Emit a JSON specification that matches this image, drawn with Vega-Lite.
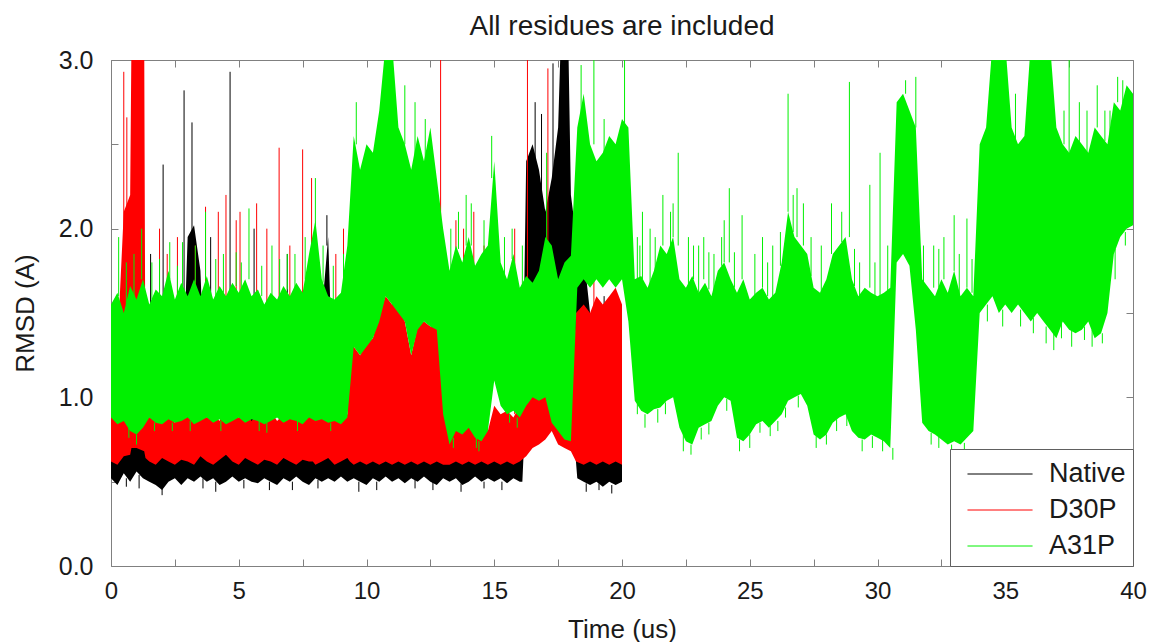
{
  "$schema": "https://vega.github.io/schema/vega-lite/v6.json",
  "width": 1022,
  "height": 506,
  "autosize": {"type": "none"},
  "padding": {"left": 111, "top": 60, "right": 18, "bottom": 76},
  "background": "white",
  "config": {
    "view": {"stroke": "#808080", "strokeWidth": 1},
    "font": "Liberation Sans"
  },
  "title": {"text": "All residues are included", "fontSize": 28, "fontWeight": "normal", "font": "Liberation Sans", "color": "#1a1a1a", "anchor": "middle", "baseline": "alphabetic", "offset": 0, "dy": 15},
  "resolve": {"axis": {"x": "independent", "y": "independent"}},
  "datasets": {
    "native": [
      {"t":0,"lo":0.52,"hi":0.8},{"t":0.25,"lo":0.48,"hi":0.75},{"t":0.5,"lo":0.55,"hi":0.78},{"t":0.75,"lo":0.5,"hi":0.72},{"t":1,"lo":0.56,"hi":0.8},{"t":1.25,"lo":0.52,"hi":0.76},{"t":1.5,"lo":0.5,"hi":0.74},{"t":1.75,"lo":0.48,"hi":0.78},{"t":2,"lo":0.45,"hi":0.72},{"t":2.25,"lo":0.5,"hi":0.76},{"t":2.5,"lo":0.52,"hi":0.74},{"t":2.75,"lo":0.48,"hi":0.8},{"t":3,"lo":0.52,"hi":1.95},{"t":3.25,"lo":0.5,"hi":2.02},{"t":3.5,"lo":0.53,"hi":1.75},{"t":3.75,"lo":0.5,"hi":0.76},{"t":4,"lo":0.52,"hi":0.78},{"t":4.25,"lo":0.48,"hi":0.74},{"t":4.5,"lo":0.5,"hi":0.76},{"t":4.75,"lo":0.53,"hi":0.8},{"t":5,"lo":0.5,"hi":0.74},{"t":5.25,"lo":0.52,"hi":0.78},{"t":5.5,"lo":0.5,"hi":1.6},{"t":5.75,"lo":0.49,"hi":0.74},{"t":6,"lo":0.52,"hi":0.78},{"t":6.25,"lo":0.5,"hi":0.75},{"t":6.5,"lo":0.48,"hi":0.8},{"t":6.75,"lo":0.52,"hi":0.74},{"t":7,"lo":0.5,"hi":0.78},{"t":7.25,"lo":0.53,"hi":0.76},{"t":7.5,"lo":0.5,"hi":0.8},{"t":7.75,"lo":0.48,"hi":0.74},{"t":8,"lo":0.52,"hi":0.78},{"t":8.25,"lo":0.5,"hi":1.5},{"t":8.5,"lo":0.52,"hi":1.95},{"t":8.75,"lo":0.5,"hi":0.76},{"t":9,"lo":0.53,"hi":0.8},{"t":9.25,"lo":0.5,"hi":0.74},{"t":9.5,"lo":0.52,"hi":0.78},{"t":9.75,"lo":0.5,"hi":0.75},{"t":10,"lo":0.48,"hi":0.8},{"t":10.25,"lo":0.52,"hi":0.76},{"t":10.5,"lo":0.5,"hi":0.78},{"t":10.75,"lo":0.53,"hi":0.74},{"t":11,"lo":0.5,"hi":0.8},{"t":11.25,"lo":0.52,"hi":0.76},{"t":11.5,"lo":0.49,"hi":0.78},{"t":11.75,"lo":0.52,"hi":0.74},{"t":12,"lo":0.5,"hi":0.8},{"t":12.25,"lo":0.53,"hi":0.76},{"t":12.5,"lo":0.5,"hi":0.78},{"t":12.75,"lo":0.48,"hi":0.75},{"t":13,"lo":0.52,"hi":0.8},{"t":13.25,"lo":0.5,"hi":0.76},{"t":13.5,"lo":0.52,"hi":0.78},{"t":13.75,"lo":0.48,"hi":0.74},{"t":14,"lo":0.5,"hi":0.8},{"t":14.25,"lo":0.53,"hi":0.76},{"t":14.5,"lo":0.5,"hi":0.78},{"t":14.75,"lo":0.52,"hi":0.74},{"t":15,"lo":0.5,"hi":0.8},{"t":15.25,"lo":0.52,"hi":0.76},{"t":15.5,"lo":0.49,"hi":0.78},{"t":15.75,"lo":0.52,"hi":0.8},{"t":16,"lo":0.5,"hi":0.85},{"t":16.1,"lo":0.5,"hi":0.9},{"t":16.25,"lo":1.0,"hi":2.4},{"t":16.5,"lo":1.3,"hi":2.5},{"t":16.75,"lo":1.4,"hi":2.35},{"t":17,"lo":1.2,"hi":2.1},{"t":17.25,"lo":1.1,"hi":2.3},{"t":17.5,"lo":1.3,"hi":2.6},{"t":17.6,"lo":1.4,"hi":3.1},{"t":17.75,"lo":1.4,"hi":3.1},{"t":17.9,"lo":1.3,"hi":3.1},{"t":18,"lo":1.0,"hi":2.2},{"t":18.25,"lo":0.52,"hi":1.9},{"t":18.5,"lo":0.5,"hi":1.85},{"t":18.75,"lo":0.48,"hi":1.5},{"t":19,"lo":0.5,"hi":0.74},{"t":19.25,"lo":0.47,"hi":0.72},{"t":19.5,"lo":0.5,"hi":0.75},{"t":19.75,"lo":0.48,"hi":0.72},{"t":20,"lo":0.5,"hi":0.74}
    ],
    "d30p": [
      {"t":0,"lo":0.62,"hi":0.9},{"t":0.25,"lo":0.6,"hi":1.3},{"t":0.5,"lo":0.65,"hi":2.1},{"t":0.75,"lo":0.66,"hi":2.2},{"t":0.8,"lo":0.7,"hi":3.1},{"t":1,"lo":0.7,"hi":3.1},{"t":1.3,"lo":0.68,"hi":3.1},{"t":1.35,"lo":0.64,"hi":0.95},{"t":1.5,"lo":0.62,"hi":0.88},{"t":1.75,"lo":0.6,"hi":0.92},{"t":2,"lo":0.64,"hi":0.86},{"t":2.25,"lo":0.62,"hi":0.9},{"t":2.5,"lo":0.6,"hi":0.85},{"t":2.75,"lo":0.63,"hi":0.92},{"t":3,"lo":0.62,"hi":0.88},{"t":3.25,"lo":0.6,"hi":0.9},{"t":3.5,"lo":0.65,"hi":0.95},{"t":3.75,"lo":0.62,"hi":0.88},{"t":4,"lo":0.6,"hi":0.9},{"t":4.25,"lo":0.63,"hi":0.86},{"t":4.5,"lo":0.66,"hi":1.0},{"t":4.75,"lo":0.62,"hi":0.92},{"t":5,"lo":0.6,"hi":0.88},{"t":5.25,"lo":0.64,"hi":0.92},{"t":5.5,"lo":0.62,"hi":0.86},{"t":5.75,"lo":0.6,"hi":0.9},{"t":6,"lo":0.63,"hi":0.88},{"t":6.25,"lo":0.62,"hi":0.92},{"t":6.5,"lo":0.6,"hi":0.86},{"t":6.75,"lo":0.64,"hi":0.9},{"t":7,"lo":0.62,"hi":0.88},{"t":7.25,"lo":0.6,"hi":0.92},{"t":7.5,"lo":0.63,"hi":0.9},{"t":7.75,"lo":0.62,"hi":1.6},{"t":7.9,"lo":0.62,"hi":1.9},{"t":8,"lo":0.6,"hi":1.2},{"t":8.25,"lo":0.62,"hi":0.9},{"t":8.5,"lo":0.64,"hi":0.88},{"t":8.75,"lo":0.6,"hi":0.92},{"t":9,"lo":0.62,"hi":0.86},{"t":9.25,"lo":0.64,"hi":0.9},{"t":9.35,"lo":0.62,"hi":1.3},{"t":9.5,"lo":0.6,"hi":1.3},{"t":9.75,"lo":0.62,"hi":1.25},{"t":10,"lo":0.6,"hi":1.32},{"t":10.25,"lo":0.62,"hi":1.35},{"t":10.5,"lo":0.6,"hi":1.5},{"t":10.75,"lo":0.62,"hi":1.6},{"t":11,"lo":0.6,"hi":1.55},{"t":11.25,"lo":0.62,"hi":1.6},{"t":11.5,"lo":0.6,"hi":1.45},{"t":11.75,"lo":0.62,"hi":1.25},{"t":12,"lo":0.6,"hi":1.42},{"t":12.25,"lo":0.62,"hi":1.45},{"t":12.5,"lo":0.6,"hi":1.42},{"t":12.75,"lo":0.62,"hi":1.45},{"t":13,"lo":0.6,"hi":1.1},{"t":13.25,"lo":0.6,"hi":0.8},{"t":13.5,"lo":0.62,"hi":0.85},{"t":13.75,"lo":0.6,"hi":0.8},{"t":14,"lo":0.62,"hi":0.86},{"t":14.25,"lo":0.6,"hi":0.78},{"t":14.5,"lo":0.62,"hi":0.85},{"t":14.75,"lo":0.6,"hi":0.8},{"t":15,"lo":0.62,"hi":0.95},{"t":15.25,"lo":0.6,"hi":0.9},{"t":15.5,"lo":0.62,"hi":0.92},{"t":15.75,"lo":0.6,"hi":0.88},{"t":16,"lo":0.62,"hi":0.95},{"t":16.25,"lo":0.65,"hi":1.0},{"t":16.5,"lo":0.7,"hi":1.05},{"t":16.75,"lo":0.72,"hi":1.1},{"t":17,"lo":0.75,"hi":1.2},{"t":17.25,"lo":0.8,"hi":1.05},{"t":17.5,"lo":0.72,"hi":0.95},{"t":17.75,"lo":0.7,"hi":0.9},{"t":18,"lo":0.68,"hi":0.95},{"t":18.2,"lo":0.62,"hi":1.5},{"t":18.5,"lo":0.6,"hi":1.55},{"t":18.75,"lo":0.62,"hi":1.5},{"t":19,"lo":0.6,"hi":1.6},{"t":19.25,"lo":0.62,"hi":1.55},{"t":19.5,"lo":0.6,"hi":1.6},{"t":19.75,"lo":0.62,"hi":1.65},{"t":20,"lo":0.6,"hi":1.55}
    ],
    "a31p": [
      {"t":0,"lo":0.88,"hi":1.55},{"t":0.25,"lo":0.84,"hi":1.62},{"t":0.5,"lo":0.86,"hi":1.5},{"t":0.75,"lo":0.8,"hi":1.66},{"t":1,"lo":0.78,"hi":1.58},{"t":1.25,"lo":0.82,"hi":1.7},{"t":1.5,"lo":0.88,"hi":1.55},{"t":1.75,"lo":0.85,"hi":1.64},{"t":2,"lo":0.84,"hi":1.6},{"t":2.25,"lo":0.87,"hi":1.75},{"t":2.5,"lo":0.85,"hi":1.58},{"t":2.75,"lo":0.86,"hi":1.68},{"t":3,"lo":0.88,"hi":1.6},{"t":3.25,"lo":0.84,"hi":1.7},{"t":3.5,"lo":0.86,"hi":1.6},{"t":3.75,"lo":0.88,"hi":1.72},{"t":4,"lo":0.85,"hi":1.58},{"t":4.25,"lo":0.87,"hi":1.66},{"t":4.5,"lo":0.84,"hi":1.6},{"t":4.75,"lo":0.86,"hi":1.68},{"t":5,"lo":0.88,"hi":1.62},{"t":5.25,"lo":0.85,"hi":1.7},{"t":5.5,"lo":0.87,"hi":1.6},{"t":5.75,"lo":0.86,"hi":1.64},{"t":6,"lo":0.84,"hi":1.55},{"t":6.25,"lo":0.86,"hi":1.62},{"t":6.5,"lo":0.88,"hi":1.58},{"t":6.75,"lo":0.85,"hi":1.66},{"t":7,"lo":0.87,"hi":1.6},{"t":7.25,"lo":0.86,"hi":1.68},{"t":7.5,"lo":0.84,"hi":1.62},{"t":7.75,"lo":0.88,"hi":1.85},{"t":8,"lo":0.86,"hi":2.05},{"t":8.25,"lo":0.87,"hi":1.7},{"t":8.5,"lo":0.85,"hi":1.6},{"t":8.75,"lo":0.86,"hi":1.58},{"t":9,"lo":0.84,"hi":1.62},{"t":9.25,"lo":0.88,"hi":1.9},{"t":9.5,"lo":1.3,"hi":2.55},{"t":9.75,"lo":1.25,"hi":2.35},{"t":10,"lo":1.3,"hi":2.5},{"t":10.25,"lo":1.35,"hi":2.45},{"t":10.5,"lo":1.45,"hi":2.7},{"t":10.75,"lo":1.6,"hi":3.1},{"t":11,"lo":1.55,"hi":3.1},{"t":11.25,"lo":1.5,"hi":2.6},{"t":11.5,"lo":1.45,"hi":2.5},{"t":11.75,"lo":1.25,"hi":2.35},{"t":12,"lo":1.4,"hi":2.55},{"t":12.25,"lo":1.45,"hi":2.4},{"t":12.5,"lo":1.42,"hi":2.6},{"t":12.75,"lo":1.4,"hi":2.3},{"t":13,"lo":0.9,"hi":2.0},{"t":13.25,"lo":0.72,"hi":1.75},{"t":13.5,"lo":0.8,"hi":1.9},{"t":13.75,"lo":0.78,"hi":1.8},{"t":14,"lo":0.82,"hi":1.95},{"t":14.25,"lo":0.76,"hi":1.78},{"t":14.5,"lo":0.74,"hi":1.85},{"t":14.75,"lo":0.8,"hi":1.9},{"t":15,"lo":1.1,"hi":2.4},{"t":15.25,"lo":0.95,"hi":1.8},{"t":15.5,"lo":0.9,"hi":1.7},{"t":15.75,"lo":0.92,"hi":1.85},{"t":16,"lo":0.88,"hi":1.65},{"t":16.25,"lo":0.95,"hi":1.72},{"t":16.5,"lo":1.0,"hi":1.68},{"t":16.75,"lo":0.98,"hi":1.75},{"t":17,"lo":1.0,"hi":1.95},{"t":17.25,"lo":0.85,"hi":1.9},{"t":17.5,"lo":0.8,"hi":1.7},{"t":17.75,"lo":0.75,"hi":1.8},{"t":18,"lo":0.74,"hi":1.84},{"t":18.25,"lo":1.65,"hi":2.6},{"t":18.5,"lo":1.7,"hi":2.8},{"t":18.75,"lo":1.65,"hi":2.5},{"t":19,"lo":1.7,"hi":2.4},{"t":19.25,"lo":1.65,"hi":2.45},{"t":19.5,"lo":1.7,"hi":2.55},{"t":19.75,"lo":1.65,"hi":2.5},{"t":20,"lo":1.7,"hi":2.65},{"t":20.25,"lo":1.45,"hi":2.6},{"t":20.5,"lo":0.98,"hi":1.7},{"t":20.75,"lo":0.92,"hi":1.72},{"t":21,"lo":0.9,"hi":1.65},{"t":21.25,"lo":0.93,"hi":1.75},{"t":21.5,"lo":0.94,"hi":1.9},{"t":21.75,"lo":0.98,"hi":1.85},{"t":22,"lo":1.0,"hi":1.95},{"t":22.25,"lo":0.82,"hi":1.7},{"t":22.5,"lo":0.74,"hi":1.65},{"t":22.75,"lo":0.72,"hi":1.72},{"t":23,"lo":0.82,"hi":1.62},{"t":23.25,"lo":0.84,"hi":1.68},{"t":23.5,"lo":0.86,"hi":1.6},{"t":23.75,"lo":0.95,"hi":1.75},{"t":24,"lo":1.0,"hi":1.8},{"t":24.25,"lo":0.98,"hi":1.7},{"t":24.5,"lo":0.76,"hi":1.62},{"t":24.75,"lo":0.74,"hi":1.7},{"t":25,"lo":0.78,"hi":1.58},{"t":25.25,"lo":0.84,"hi":1.62},{"t":25.5,"lo":0.86,"hi":1.65},{"t":25.75,"lo":0.82,"hi":1.58},{"t":26,"lo":0.86,"hi":1.62},{"t":26.25,"lo":0.9,"hi":1.8},{"t":26.5,"lo":0.98,"hi":2.1},{"t":26.75,"lo":1.0,"hi":1.95},{"t":27,"lo":1.02,"hi":1.9},{"t":27.25,"lo":0.95,"hi":1.85},{"t":27.5,"lo":0.78,"hi":1.65},{"t":27.75,"lo":0.75,"hi":1.62},{"t":28,"lo":0.78,"hi":1.7},{"t":28.25,"lo":0.85,"hi":1.85},{"t":28.5,"lo":0.88,"hi":1.9},{"t":28.75,"lo":0.9,"hi":1.95},{"t":29,"lo":0.8,"hi":1.7},{"t":29.25,"lo":0.76,"hi":1.6},{"t":29.5,"lo":0.75,"hi":1.65},{"t":29.75,"lo":0.78,"hi":1.62},{"t":30,"lo":0.76,"hi":1.6},{"t":30.25,"lo":0.74,"hi":1.62},{"t":30.5,"lo":0.7,"hi":1.65},{"t":30.75,"lo":1.8,"hi":2.75},{"t":31,"lo":1.85,"hi":2.8},{"t":31.25,"lo":1.78,"hi":2.7},{"t":31.5,"lo":1.4,"hi":2.6},{"t":31.75,"lo":0.85,"hi":1.7},{"t":32,"lo":0.8,"hi":1.65},{"t":32.25,"lo":0.78,"hi":1.6},{"t":32.5,"lo":0.75,"hi":1.7},{"t":32.75,"lo":0.72,"hi":1.62},{"t":33,"lo":0.74,"hi":1.75},{"t":33.25,"lo":0.72,"hi":1.6},{"t":33.5,"lo":0.76,"hi":1.65},{"t":33.75,"lo":0.8,"hi":1.6},{"t":34,"lo":1.5,"hi":2.5},{"t":34.25,"lo":1.55,"hi":2.6},{"t":34.5,"lo":1.6,"hi":3.1},{"t":34.75,"lo":1.5,"hi":3.1},{"t":35,"lo":1.55,"hi":3.1},{"t":35.25,"lo":1.5,"hi":2.6},{"t":35.5,"lo":1.55,"hi":2.5},{"t":35.75,"lo":1.5,"hi":2.55},{"t":36,"lo":1.45,"hi":3.1},{"t":36.25,"lo":1.5,"hi":3.1},{"t":36.5,"lo":1.45,"hi":3.1},{"t":36.75,"lo":1.4,"hi":3.1},{"t":37,"lo":1.35,"hi":2.6},{"t":37.25,"lo":1.45,"hi":2.5},{"t":37.5,"lo":1.4,"hi":2.45},{"t":37.75,"lo":1.38,"hi":2.55},{"t":38,"lo":1.4,"hi":2.5},{"t":38.25,"lo":1.45,"hi":2.45},{"t":38.5,"lo":1.35,"hi":2.6},{"t":38.75,"lo":1.38,"hi":2.55},{"t":39,"lo":1.5,"hi":2.5},{"t":39.25,"lo":1.85,"hi":2.75},{"t":39.5,"lo":1.95,"hi":2.7},{"t":39.75,"lo":2.0,"hi":2.85},{"t":40,"lo":2.02,"hi":2.8}
    ],
    "native_spikes": [
      {"t":1.55,"a":0.75,"b":1.85},{"t":2.04,"a":0.75,"b":2.38},{"t":2.86,"a":0.75,"b":2.82},{"t":3.17,"a":1.9,"b":2.63},{"t":3.9,"a":0.75,"b":1.95},{"t":4.66,"a":0.78,"b":2.93},{"t":5.6,"a":0.75,"b":2.0},{"t":6.9,"a":0.75,"b":1.85},{"t":8.45,"a":1.9,"b":2.08},{"t":11.4,"a":0.75,"b":1.8},{"t":16.6,"a":2.3,"b":2.75},{"t":16.85,"a":2.2,"b":2.68},{"t":17.3,"a":2.2,"b":2.98},{"t":18.3,"a":1.8,"b":2.25},{"t":19.3,"a":0.7,"b":1.6},
      {"t":1.1,"a":0.54,"b":0.46},{"t":2.0,"a":0.46,"b":0.42},{"t":4.1,"a":0.5,"b":0.44},{"t":6.2,"a":0.5,"b":0.45},{"t":9.7,"a":0.5,"b":0.44},{"t":12.6,"a":0.5,"b":0.45},{"t":15.3,"a":0.5,"b":0.45},{"t":19.6,"a":0.48,"b":0.43},
      {"t":0.6,"a":0.52,"b":0.47},{"t":3.6,"a":0.52,"b":0.46},{"t":5.2,"a":0.51,"b":0.46},{"t":7.1,"a":0.5,"b":0.45},{"t":8.1,"a":0.51,"b":0.46},{"t":10.4,"a":0.5,"b":0.45},{"t":11.9,"a":0.51,"b":0.46},{"t":13.7,"a":0.49,"b":0.44},{"t":14.6,"a":0.5,"b":0.46},{"t":18.6,"a":0.49,"b":0.44},{"t":19.1,"a":0.49,"b":0.45}
    ],
    "d30p_spikes": [
      {"t":0.5,"a":1.9,"b":2.93},{"t":0.62,"a":2.0,"b":2.66},{"t":1.9,"a":0.9,"b":2.0},{"t":2.2,"a":0.9,"b":1.85},{"t":2.6,"a":0.9,"b":1.95},{"t":3.3,"a":0.9,"b":1.9},{"t":3.7,"a":0.9,"b":2.13},{"t":4.2,"a":0.9,"b":2.1},{"t":4.5,"a":1.0,"b":2.2},{"t":4.9,"a":0.9,"b":2.05},{"t":5.05,"a":0.9,"b":2.1},{"t":5.7,"a":0.9,"b":2.15},{"t":6.1,"a":0.9,"b":2.0},{"t":6.58,"a":0.9,"b":2.48},{"t":7.0,"a":0.9,"b":1.9},{"t":7.5,"a":0.9,"b":2.47},{"t":7.85,"a":1.9,"b":2.3},{"t":8.8,"a":0.9,"b":1.85},{"t":9.1,"a":0.9,"b":2.0},{"t":12.9,"a":1.4,"b":3.0},{"t":13.5,"a":0.85,"b":2.05},{"t":13.8,"a":0.85,"b":2.0},{"t":14.2,"a":0.85,"b":2.1},{"t":14.6,"a":0.85,"b":1.9},{"t":15.8,"a":0.9,"b":2.0},{"t":16.3,"a":1.0,"b":3.0},{"t":17.1,"a":1.2,"b":2.95},{"t":18.9,"a":1.5,"b":1.75}
    ],
    "a31p_spikes": [
      {"t":0.3,"a":1.6,"b":1.95},{"t":1.2,"a":1.7,"b":2.0},{"t":2.3,"a":1.7,"b":1.92},{"t":2.8,"a":1.6,"b":1.92},{"t":3.7,"a":1.7,"b":2.1},{"t":5.4,"a":1.7,"b":2.12},{"t":6.3,"a":1.6,"b":1.9},{"t":7.2,"a":1.6,"b":1.85},{"t":8.0,"a":2.0,"b":2.3},{"t":9.6,"a":2.5,"b":2.75},{"t":11.5,"a":2.5,"b":2.85},{"t":11.9,"a":2.3,"b":2.75},{"t":12.3,"a":2.4,"b":2.65},{"t":13.9,"a":1.9,"b":2.2},{"t":14.9,"a":2.3,"b":2.55},{"t":17.05,"a":1.9,"b":2.45},{"t":18.4,"a":2.6,"b":2.97},{"t":18.9,"a":2.5,"b":3.0},{"t":19.3,"a":2.45,"b":2.65},{"t":20.1,"a":2.6,"b":3.0},{"t":20.8,"a":1.7,"b":2.1},{"t":21.6,"a":1.9,"b":2.2},{"t":22.2,"a":1.9,"b":2.45},{"t":23.2,"a":1.7,"b":1.95},{"t":24.2,"a":1.8,"b":2.24},{"t":24.7,"a":1.7,"b":2.08},{"t":25.9,"a":1.6,"b":1.9},{"t":26.5,"a":2.1,"b":2.8},{"t":26.85,"a":1.95,"b":2.24},{"t":28.2,"a":1.85,"b":2.15},{"t":28.9,"a":1.95,"b":2.87},{"t":29.7,"a":1.65,"b":2.26},{"t":30.1,"a":1.6,"b":2.45},{"t":31.1,"a":2.8,"b":2.88},{"t":31.5,"a":2.6,"b":2.9},{"t":32.2,"a":1.65,"b":1.9},{"t":33.0,"a":1.75,"b":2.08},{"t":33.5,"a":1.65,"b":2.06},{"t":37.5,"a":2.45,"b":3.0},{"t":38.6,"a":2.6,"b":2.85},{"t":39.4,"a":2.75,"b":2.9},
      {"t":20.6,"a":1.7,"b":1.95},{"t":21.1,"a":1.65,"b":2.0},{"t":21.9,"a":1.85,"b":2.1},{"t":22.6,"a":1.65,"b":1.95},{"t":23.0,"a":1.62,"b":1.9},{"t":23.6,"a":1.6,"b":1.85},{"t":24.0,"a":1.8,"b":2.05},{"t":25.2,"a":1.6,"b":1.85},{"t":25.5,"a":1.65,"b":1.95},{"t":27.1,"a":1.9,"b":2.15},{"t":27.8,"a":1.62,"b":1.9},{"t":29.3,"a":1.6,"b":1.8},{"t":30.4,"a":1.62,"b":1.9},{"t":32.6,"a":1.7,"b":1.95},{"t":33.2,"a":1.6,"b":1.85},{"t":35.4,"a":2.5,"b":2.8},{"t":37.9,"a":2.5,"b":2.75},{"t":38.2,"a":2.45,"b":2.7},{"t":39.1,"a":2.5,"b":2.7},
      {"t":20.9,"a":0.9,"b":0.82},{"t":21.4,"a":0.93,"b":0.85},{"t":22.4,"a":0.8,"b":0.68},{"t":23.1,"a":0.82,"b":0.75},{"t":24.6,"a":0.75,"b":0.68},{"t":25.0,"a":0.78,"b":0.7},{"t":26.1,"a":0.86,"b":0.8},{"t":27.6,"a":0.77,"b":0.7},{"t":28.0,"a":0.78,"b":0.72},{"t":29.4,"a":0.75,"b":0.68},{"t":30.6,"a":0.7,"b":0.63},{"t":32.9,"a":0.72,"b":0.66},{"t":33.4,"a":0.73,"b":0.68},{"t":36.9,"a":1.38,"b":1.28},{"t":37.2,"a":1.45,"b":1.35},{"t":38.4,"a":1.4,"b":1.3},{"t":38.8,"a":1.38,"b":1.32},{"t":3.1,"a":0.86,"b":0.8},{"t":5.8,"a":0.86,"b":0.8},{"t":14.4,"a":0.74,"b":0.68},{"t":15.9,"a":0.88,"b":0.82},
      {"t":0.6,"a":1.55,"b":1.8},{"t":0.9,"a":1.6,"b":1.85},{"t":1.6,"a":1.58,"b":1.8},{"t":1.9,"a":1.6,"b":1.82},{"t":2.6,"a":1.6,"b":1.78},{"t":3.3,"a":1.68,"b":1.9},{"t":4.1,"a":1.6,"b":1.82},{"t":4.4,"a":1.62,"b":1.85},{"t":4.9,"a":1.66,"b":1.86},{"t":5.1,"a":1.64,"b":1.8},{"t":5.9,"a":1.6,"b":1.78},{"t":6.6,"a":1.6,"b":1.82},{"t":6.9,"a":1.64,"b":1.85},{"t":7.6,"a":1.7,"b":1.95},{"t":8.3,"a":1.68,"b":1.9},{"t":8.7,"a":1.58,"b":1.78},{"t":9.1,"a":1.65,"b":1.85},
      {"t":0.7,"a":0.82,"b":0.76},{"t":1.0,"a":0.78,"b":0.72},{"t":1.7,"a":0.85,"b":0.8},{"t":2.4,"a":0.85,"b":0.8},{"t":4.3,"a":0.86,"b":0.8},{"t":6.1,"a":0.85,"b":0.79},{"t":7.3,"a":0.86,"b":0.8},{"t":8.6,"a":0.85,"b":0.8},
      {"t":13.3,"a":1.75,"b":2.0},{"t":13.6,"a":1.88,"b":2.1},{"t":14.1,"a":1.9,"b":2.15},{"t":14.6,"a":1.85,"b":2.05},{"t":15.4,"a":1.72,"b":1.95},{"t":15.7,"a":1.82,"b":2.0},{"t":16.1,"a":1.66,"b":1.9},
      {"t":13.4,"a":0.76,"b":0.7},{"t":14.3,"a":0.76,"b":0.7},{"t":15.6,"a":0.9,"b":0.85},
      {"t":20.7,"a":1.71,"b":1.9},{"t":21.3,"a":1.75,"b":1.95},{"t":22.0,"a":1.95,"b":2.15},{"t":22.8,"a":1.7,"b":1.9},{"t":23.4,"a":1.64,"b":1.86},{"t":23.9,"a":1.78,"b":1.95},{"t":24.4,"a":1.65,"b":1.86},{"t":25.7,"a":1.6,"b":1.8},{"t":26.2,"a":1.78,"b":1.98},{"t":26.7,"a":1.98,"b":2.2},{"t":27.4,"a":1.72,"b":1.95},{"t":28.6,"a":1.92,"b":2.1},{"t":29.1,"a":1.66,"b":1.88},{"t":29.9,"a":1.6,"b":1.8},{"t":31.8,"a":1.68,"b":1.9},{"t":32.4,"a":1.65,"b":1.88},{"t":33.7,"a":1.62,"b":1.82},
      {"t":20.6,"a":0.96,"b":0.9},{"t":21.7,"a":0.97,"b":0.9},{"t":22.7,"a":0.72,"b":0.66},{"t":23.4,"a":0.85,"b":0.78},{"t":24.1,"a":0.99,"b":0.92},{"t":25.4,"a":0.85,"b":0.79},{"t":25.8,"a":0.83,"b":0.77},{"t":26.4,"a":0.94,"b":0.88},{"t":26.9,"a":1.01,"b":0.94},{"t":28.4,"a":0.87,"b":0.8},{"t":28.8,"a":0.89,"b":0.83},{"t":29.8,"a":0.77,"b":0.7},{"t":30.2,"a":0.75,"b":0.68},{"t":32.1,"a":0.79,"b":0.72},{"t":32.4,"a":0.77,"b":0.7},
      {"t":34.3,"a":1.55,"b":1.45},{"t":34.9,"a":1.52,"b":1.42},{"t":35.6,"a":1.52,"b":1.42},{"t":36.1,"a":1.47,"b":1.38},{"t":36.6,"a":1.42,"b":1.32},{"t":37.6,"a":1.4,"b":1.3},{"t":38.1,"a":1.42,"b":1.34},{"t":39.3,"a":1.88,"b":1.7},{"t":39.7,"a":1.98,"b":1.9},
      {"t":37.3,"a":2.5,"b":2.7},{"t":38.9,"a":2.52,"b":2.7},{"t":39.6,"a":2.72,"b":2.88}
    ]
  },
  "layer": [
    {
      "data": {"name": "native"},
      "mark": {"type": "area", "clip": true},
      "encoding": {
        "x": {"field": "t", "type": "quantitative", "scale": {"domain": [0, 40], "nice": false},
          "axis": {"orient": "bottom", "values": [0,2.5,5,7.5,10,12.5,15,17.5,20,22.5,25,27.5,30,32.5,35,37.5,40], "labelExpr": "datum.value % 5 === 0 ? format(datum.value, 'd') : ''", "domain": false, "grid": false, "tickSize": -7, "tickColor": "#808080", "labelFontSize": 24, "labelFont": "Liberation Sans", "labelColor": "#1a1a1a", "labelPadding": 20, "labelFlush": false, "labelOverlap": false, "title": "Time (us)", "titleFontSize": 26, "titleFont": "Liberation Sans", "titleFontWeight": "normal", "titleColor": "#1a1a1a", "titlePadding": 13}},
        "y": {"field": "lo", "type": "quantitative", "scale": {"domain": [0, 3], "nice": false},
          "axis": {"orient": "left", "values": [0,0.5,1,1.5,2,2.5,3], "labelExpr": "datum.value % 1 === 0 ? format(datum.value, '.1f') : ''", "domain": false, "grid": false, "tickSize": -7, "tickColor": "#808080", "labelFontSize": 25, "labelFont": "Liberation Sans", "labelColor": "#1a1a1a", "labelPadding": 25, "labelFlush": false, "labelOverlap": false, "title": "RMSD (A)", "titleFontSize": 26, "titleFont": "Liberation Sans", "titleFontWeight": "normal", "titleColor": "#1a1a1a", "titlePadding": 20}},
        "y2": {"field": "hi"},
        "color": {"datum": "Native", "type": "nominal",
          "scale": {"domain": ["Native", "D30P", "A31P"], "range": ["#000000", "#ff0000", "#00f000"]},
          "legend": {"orient": "bottom-right", "offset": 0, "title": null, "strokeColor": "#606060", "fillColor": "#ffffff", "padding": 7, "symbolType": "M-0.43,0H3.29", "symbolSize": 1225, "symbolStrokeWidth": 1, "labelFontSize": 27, "labelFont": "Liberation Sans", "labelColor": "#1a1a1a", "labelOffset": 56, "rowPadding": 5}}
      }
    },
    {
      "data": {"name": "native_spikes"},
      "mark": {"type": "rule", "clip": true, "strokeWidth": 1},
      "encoding": {
        "x": {"field": "t", "type": "quantitative", "axis": null},
        "y": {"field": "a", "type": "quantitative", "axis": null},
        "y2": {"field": "b"},
        "color": {"datum": "Native", "type": "nominal"}
      }
    },
    {
      "data": {"name": "d30p"},
      "mark": {"type": "area", "clip": true},
      "encoding": {
        "x": {"field": "t", "type": "quantitative", "axis": null},
        "y": {"field": "lo", "type": "quantitative", "axis": null},
        "y2": {"field": "hi"},
        "color": {"datum": "D30P", "type": "nominal"}
      }
    },
    {
      "data": {"name": "d30p_spikes"},
      "mark": {"type": "rule", "clip": true, "strokeWidth": 1},
      "encoding": {
        "x": {"field": "t", "type": "quantitative", "axis": null},
        "y": {"field": "a", "type": "quantitative", "axis": null},
        "y2": {"field": "b"},
        "color": {"datum": "D30P", "type": "nominal"}
      }
    },
    {
      "data": {"name": "a31p"},
      "mark": {"type": "area", "clip": true},
      "encoding": {
        "x": {"field": "t", "type": "quantitative", "axis": null},
        "y": {"field": "lo", "type": "quantitative", "axis": null},
        "y2": {"field": "hi"},
        "color": {"datum": "A31P", "type": "nominal"}
      }
    },
    {
      "data": {"name": "a31p_spikes"},
      "mark": {"type": "rule", "clip": true, "strokeWidth": 1},
      "encoding": {
        "x": {"field": "t", "type": "quantitative",
          "axis": {"orient": "top", "values": [0,2.5,5,7.5,10,12.5,15,17.5,20,22.5,25,27.5,30,32.5,35,37.5,40], "labels": false, "domain": false, "grid": false, "tickSize": -7, "tickColor": "#808080", "title": null}},
        "y": {"field": "a", "type": "quantitative",
          "axis": {"orient": "right", "values": [0,0.5,1,1.5,2,2.5,3], "labels": false, "domain": false, "grid": false, "tickSize": -7, "tickColor": "#808080", "title": null}},
        "y2": {"field": "b"},
        "color": {"datum": "A31P", "type": "nominal"}
      }
    }
  ]
}
